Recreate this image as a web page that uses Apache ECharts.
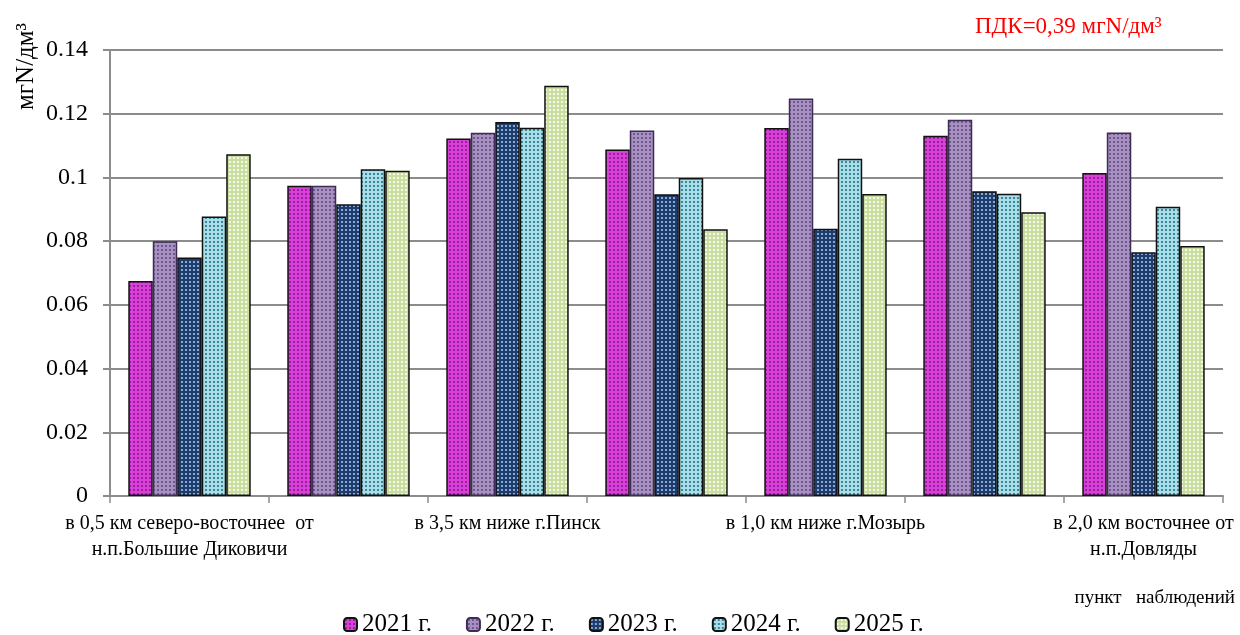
<!DOCTYPE html>
<html>
<head>
<meta charset="utf-8">
<script src="https://cdn.jsdelivr.net/npm/echarts@6/dist/echarts.min.js"></script>
<style>
html,body{margin:0;padding:0;background:#fff;}
#chart{width:1240px;height:635px;}
</style>
</head>
<body>
<div id="chart"></div>
<script>
const categories = [
  'в 0,5 км северо-восточнее  от\nн.п.Большие Диковичи',
  '',
  'в 3,5 км ниже г.Пинск',
  '',
  'в 1,0 км ниже г.Мозырь',
  '',
  'в 2,0 км восточнее от\nн.п.Довляды'
];
const seriesNames = ['2021 г.', '2022 г.', '2023 г.', '2024 г.', '2025 г.'];
const v2021 = [0.0675, 0.0974, 0.1122, 0.1088, 0.1155, 0.1131, 0.1014];
const v2022 = [0.0800, 0.0974, 0.1140, 0.1147, 0.1248, 0.1181, 0.1141];
const v2023 = [0.0749, 0.0916, 0.1174, 0.0947, 0.0839, 0.0957, 0.0765];
const v2024 = [0.0877, 0.1026, 0.1156, 0.0998, 0.1059, 0.0949, 0.0908];
const v2025 = [0.1073, 0.1021, 0.1288, 0.0837, 0.0948, 0.0891, 0.0785];
const yTicks = { min: 0, max: 0.14, interval: 0.02 };

function pattern(base, dot) {
  const c = document.createElement('canvas');
  c.width = 4; c.height = 4;
  const ctx = c.getContext('2d');
  ctx.fillStyle = base; ctx.fillRect(0, 0, 4, 4);
  ctx.fillStyle = dot; ctx.fillRect(1, 1, 2, 2);
  return { image: c, repeat: 'repeat' };
}
const styles = [
  { fill: pattern('#d93fd9', '#9a1f9a'), border: '#111' },
  { fill: pattern('#a990c2', '#6f5a8c'), border: '#3d2c55' },
  { fill: pattern('#1f3d6c', '#86a9d8'), border: '#111' },
  { fill: pattern('#a9dde8', '#3a8797'), border: '#111' },
  { fill: pattern('#cadf9f', '#f4f8ea'), border: '#111' }
];
const values = [v2021, v2022, v2023, v2024, v2025];
const font = '"Liberation Serif", "Times New Roman", serif';

const chart = echarts.init(document.getElementById('chart'), null, { renderer: 'canvas' });
chart.setOption({
  animation: false,
  backgroundColor: '#fff',
  textStyle: { fontFamily: font, color: '#000' },
  grid: { left: 110, right: 17, top: 50, bottom: 139 },
  legend: {
    top: 607,
    left: 338,
    itemWidth: 13,
    itemHeight: 13,
    itemGap: 34,
    textStyle: { fontFamily: font, fontSize: 25, color: '#000' },
    data: seriesNames
  },
  xAxis: {
    type: 'category',
    data: categories,
    boundaryGap: true,
    axisLine: { lineStyle: { color: '#8c8c8c', width: 2 } },
    axisTick: { show: true, length: 7, lineStyle: { color: '#8c8c8c', width: 1.5 }, interval: 0 },
    axisLabel: { interval: 1, fontFamily: font, fontSize: 20, color: '#000', margin: 15, lineHeight: 26 }
  },
  yAxis: {
    type: 'value',
    min: yTicks.min, max: yTicks.max, interval: yTicks.interval,
    axisLine: { show: true, lineStyle: { color: '#8c8c8c', width: 2 } },
    axisTick: { show: true, length: 7, lineStyle: { color: '#8c8c8c', width: 2 } },
    splitLine: { lineStyle: { color: '#8c8c8c', width: 2 } },
    axisLabel: { fontFamily: font, fontSize: 24, color: '#000', margin: 22 }
  },
  series: values.map((d, i) => ({
    name: seriesNames[i],
    type: 'bar',
    data: d,
    barGap: '0%',
    barCategoryGap: '23%',
    itemStyle: { color: styles[i].fill, borderColor: styles[i].border, borderWidth: 1.5 }
  })),
  graphic: [
    {
      type: 'text', left: 975, top: 15,
      style: { text: 'ПДК=0,39 мгN/дм³', fill: '#ff0000', font: '23px ' + font }
    },
    {
      type: 'text', x: 14, y: 110, rotation: Math.PI / 2,
      style: { text: 'мгN/дм³', fill: '#000', font: '25px ' + font }
    },
    {
      type: 'text', right: 5, top: 589,
      style: { text: 'пункт   наблюдений', fill: '#000', font: '19px ' + font }
    }
  ]
});
</script>
</body>
</html>
